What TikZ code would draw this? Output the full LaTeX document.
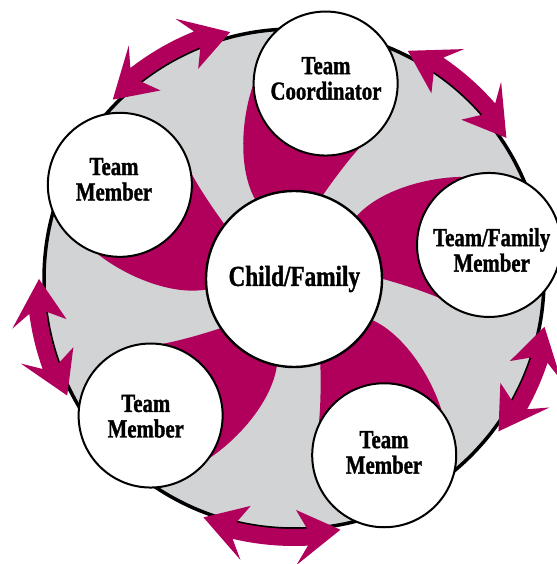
\documentclass[tikz,border=0pt]{standalone}
\usepackage{fontspec}
\newfontfamily\lblfont{Liberation Serif}[FakeStretch=0.8,FakeBold=1.2]
\definecolor{magentaB}{RGB}{176,0,92}
\definecolor{grayfill}{RGB}{209,211,212}
\begin{document}
\begin{tikzpicture}[x=1pt,y=1pt,
  member/.style={circle, draw=black, line width=2pt, fill=white, minimum size=144pt, inner sep=0pt},
  hub/.style={circle, draw=black, line width=2.4pt, fill=white, minimum size=176pt, inner sep=0pt},
  mlabel/.style={inner sep=0pt, align=center, font=\lblfont\bfseries\fontsize{26}{25.5}\selectfont},
  hlabel/.style={inner sep=0pt, font=\lblfont\bfseries\fontsize{29}{30}\selectfont},
  blade/.style={fill=magentaB},
  dblarrow/.style={fill=magentaB}]
\useasboundingbox (0,0) rectangle (556,564);
\coordinate (O) at (294,285);
\fill[grayfill] (O) circle[radius=250];
\foreach \a in {80.8, 9.9, -62.9, -136.4, 151.6} {
  \begin{scope}[shift={(O)}, rotate=\a-90]
    \fill[blade] (-71.1,186.7) .. controls (-77.9,149.5) and (-72.9,99.6) .. (-50.75,71.9)
      -- (14.8,86.7) .. controls (23.5,105.1) and (35.1,127.2) .. (45.5,142.7) -- cycle;
  \end{scope}
}
\draw[line width=3.5pt] (O) circle[radius=250];
\begin{scope}[shift={(O)}]
\foreach \ta/\tb in {135.3/104.5, 63.5/33.6, -10.8/-36.7, -79.5/-110.8, 207.2/180} {
  \fill[dblarrow] (\ta-7.5:267) -- (\ta-10:286) -- (\ta:255) -- (\ta-10:231) -- (\ta-7.5:250)
    arc[start angle=\ta-7.5, end angle=\tb+7.5, radius=250]
    -- (\tb+10:231) -- (\tb:255) -- (\tb+10:286) -- (\tb+7.5:267)
    arc[start angle=\tb+7.5, end angle=\ta-7.5, radius=267] -- cycle;
}
\node[member] (coord) at (80.8:198) {};
\node[member] (tfm) at (9.9:198) {};
\node[member] (tmbr) at (-62.9:198) {};
\node[member] (tmbl) at (-136.4:198) {};
\node[member] (tmtl) at (151.6:198) {};
\end{scope}
\node[hub] (hub) at (O) {};
\node[hlabel] (hubtext) at (294.3,285) {Child/Family};
\node[mlabel] (coordtext) at (326,485.5) {Team\\Coordinator};
\node[mlabel] (tmtltext) at (114,384.6) {Team\\Member};
\node[mlabel] (tfmtext) at (491.7,314) {Team/Family\\Member};
\node[mlabel] (tmbltext) at (145.8,147.7) {Team\\Member};
\node[mlabel] (tmbrtext) at (384,111.5) {Team\\Member};
\end{tikzpicture}
\end{document}
